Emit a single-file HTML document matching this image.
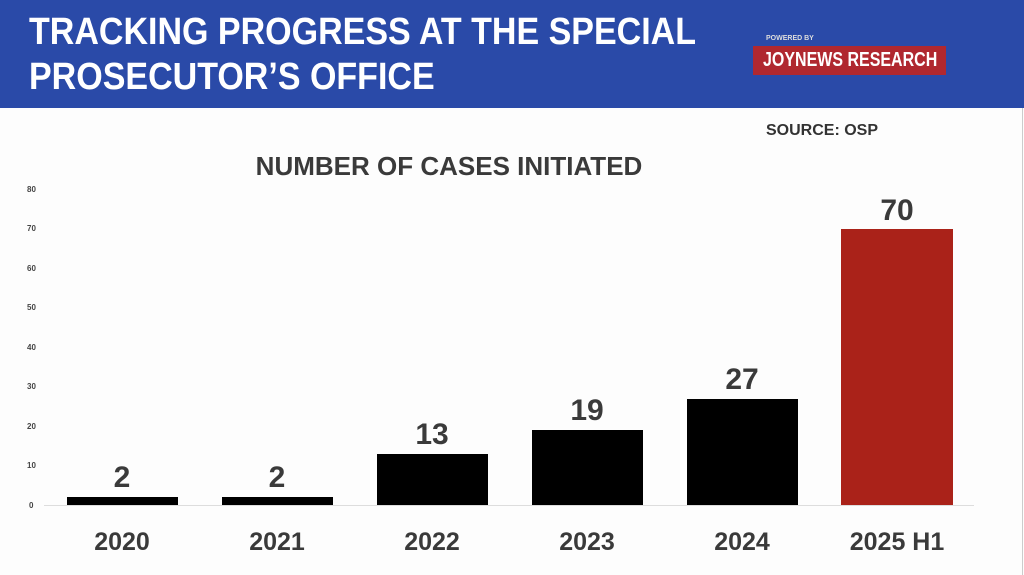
<!DOCTYPE html>
<html><head><meta charset="utf-8"><style>
html,body{margin:0;padding:0;background:#fdfdfd;}
body{width:1024px;height:575px;overflow:hidden;position:relative;font-family:"Liberation Sans",sans-serif;}
.hdr{position:absolute;left:0;top:0;width:1024px;height:108px;background:#2a4aa8;}
.t{position:absolute;color:#fff;font-weight:bold;font-size:38px;line-height:38px;transform-origin:0 0;white-space:nowrap;}
</style></head><body>
<div class="hdr"></div>
<div class="t" style="left:29px;top:13px;transform:scaleX(0.895)">TRACKING PROGRESS AT THE SPECIAL</div>
<div class="t" style="left:29px;top:58px;transform:scaleX(0.895)">PROSECUTOR’S OFFICE</div>
<div style="position:absolute;left:766px;top:35px;color:#ddd;font-size:7px;font-weight:bold;">POWERED BY</div>
<div style="position:absolute;left:753px;top:46px;width:193px;height:29px;background:#b0282f;"></div>
<div style="position:absolute;left:763px;top:49px;color:#fff;font-weight:bold;font-size:20px;line-height:22px;white-space:nowrap;transform:scaleX(0.8);transform-origin:0 0;">JOYNEWS RESEARCH</div>
<svg width="1024" height="575" style="position:absolute;left:0;top:0" font-family="Liberation Sans, sans-serif" font-weight="bold">
<text x="766" y="135" font-size="16" fill="#333">SOURCE: OSP</text>
<text x="449" y="175" font-size="26" fill="#3a3a3a" text-anchor="middle">NUMBER OF CASES INITIATED</text>
<g font-size="8" fill="#444">
<text x="27" y="192">80</text><text x="27" y="231">70</text><text x="27" y="271">60</text><text x="27" y="310">50</text><text x="27" y="350">40</text><text x="27" y="389">30</text><text x="27" y="429">20</text><text x="27" y="468">10</text><text x="29" y="508">0</text>
</g>
<line x1="44" y1="505.5" x2="974" y2="505.5" stroke="#ddd" stroke-width="1"/>
<rect x="67" y="497" width="111" height="8" fill="#000"/>
<rect x="222" y="497" width="111" height="8" fill="#000"/>
<rect x="377" y="454" width="111" height="51" fill="#000"/>
<rect x="532" y="430" width="111" height="75" fill="#000"/>
<rect x="687" y="399" width="111" height="106" fill="#000"/>
<rect x="841" y="229" width="112" height="276" fill="#aa2219"/>
<g font-size="30" fill="#3a3a3a" text-anchor="middle">
<text x="122" y="487">2</text><text x="277" y="487">2</text><text x="432" y="444">13</text><text x="587" y="420">19</text><text x="742" y="389">27</text><text x="897" y="220">70</text>
</g>
<g font-size="25" fill="#3a3a3a" text-anchor="middle">
<text x="122" y="550">2020</text><text x="277" y="550">2021</text><text x="432" y="550">2022</text><text x="587" y="550">2023</text><text x="742" y="550">2024</text><text x="897" y="550">2025 H1</text>
</g>
<line x1="1022.5" y1="108" x2="1022.5" y2="575" stroke="#ccc"/>
</svg>
</body></html>
